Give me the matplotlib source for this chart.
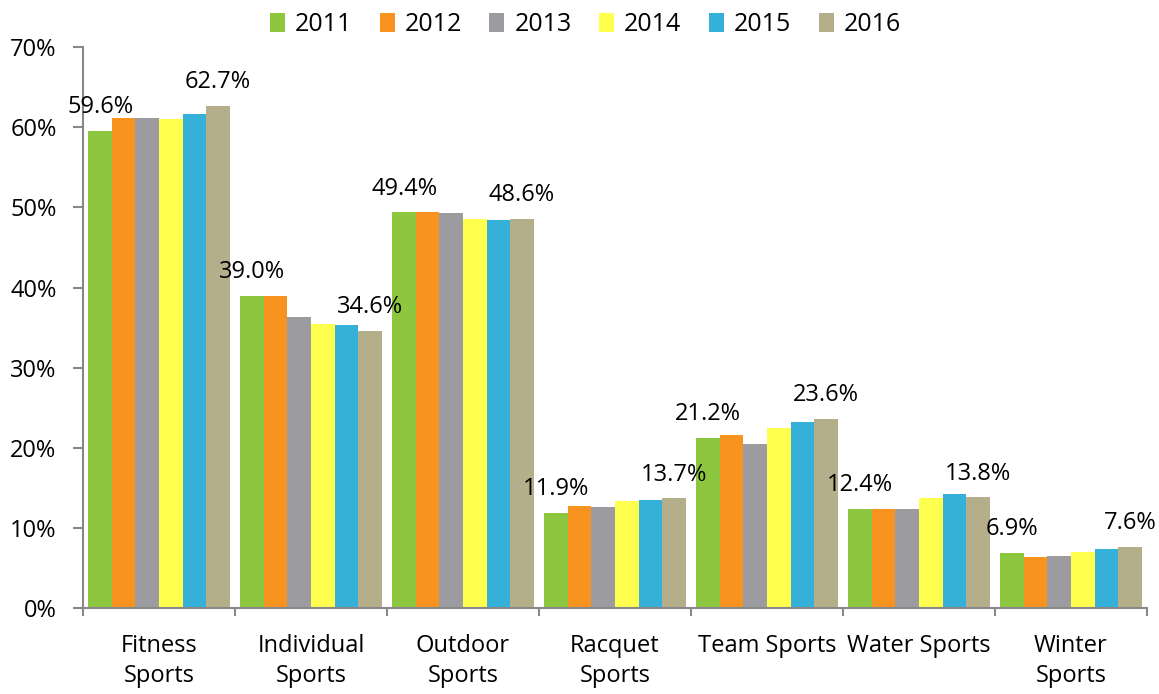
import numpy as np
import matplotlib
matplotlib.use("Agg")
import matplotlib.pyplot as plt
from matplotlib.ticker import FixedLocator, PercentFormatter

# categories and yearly shares (%)
categories = ["Fitness\nSports", "Individual\nSports", "Outdoor\nSports", "Racquet\nSports",
              "Team Sports", "Water Sports", "Winter\nSports"]
years = ["2011", "2012", "2013", "2014", "2015", "2016"]

v2011 = [59.6, 39.0, 49.4, 11.9, 21.2, 12.4, 6.9]
v2012 = [61.1, 39.0, 49.4, 12.7, 21.6, 12.4, 6.4]
v2013 = [61.2, 36.3, 49.3, 12.6, 20.5, 12.3, 6.5]
v2014 = [61.0, 35.4, 48.5, 13.4, 22.5, 13.7, 7.0]
v2015 = [61.7, 35.3, 48.4, 13.5, 23.2, 14.2, 7.4]
v2016 = [62.7, 34.6, 48.6, 13.7, 23.6, 13.8, 7.6]

colors = ["#8DC63F", "#F7931E", "#9B9BA0", "#FFFF4D", "#35B0D8", "#B5AE8A"]

font = ["Open Sans", "DejaVu Sans"]

series = [v2011, v2012, v2013, v2014, v2015, v2016]
x = np.arange(len(categories))
bar_w = 0.155

fig = plt.figure(figsize=(11.59, 6.94), dpi=100)
ax = fig.add_axes([0.0716, 0.124, 0.918, 0.808])

for i, (yr, vals, c) in enumerate(zip(years, series, colors)):
    offs = (i - 2.5) * bar_w
    ax.bar(x + offs, vals, width=bar_w, color=c, label=yr, linewidth=0)

# labels above first and last bar of each group
for j in range(len(categories)):
    for i in (0, 5):
        offs = (i - 2.5) * bar_w
        val = series[i][j]
        ax.text(x[j] + offs, val + 2.2, f"{val:.1f}%", ha="center", va="baseline",
                fontsize=17, family=font, color="black")

ax.set_xlim(-0.5, len(categories) - 0.5)
ax.set_ylim(0, 70)
ax.yaxis.set_major_locator(FixedLocator(np.arange(0, 71, 10)))
ax.yaxis.set_major_formatter(PercentFormatter(decimals=0))

ax.set_xticks(x)
ax.set_xticklabels(categories, fontsize=17, family=font, linespacing=1.3)
ax.xaxis.set_minor_locator(FixedLocator(np.arange(-0.5, len(categories), 1.0)))
ax.tick_params(axis="x", which="major", length=0, pad=19)
ax.tick_params(axis="x", which="minor", length=6, color="#888888", width=1.5)
ax.tick_params(axis="y", length=7, color="#888888", width=1.5, pad=12)
for lab in ax.get_yticklabels():
    lab.set_fontsize(17)
    lab.set_family(font)

for s in ("top", "right"):
    ax.spines[s].set_visible(False)
for s in ("left", "bottom"):
    ax.spines[s].set_color("#888888")
    ax.spines[s].set_linewidth(1.5)

leg = fig.legend(loc="upper center", bbox_to_anchor=(0.505, 1.015), ncol=6, frameon=False,
                 handlelength=0.6, handleheight=0.8, handletextpad=0.4, columnspacing=1.1,
                 prop={"family": font, "size": 18})

fig.savefig("out.png", dpi=100)
